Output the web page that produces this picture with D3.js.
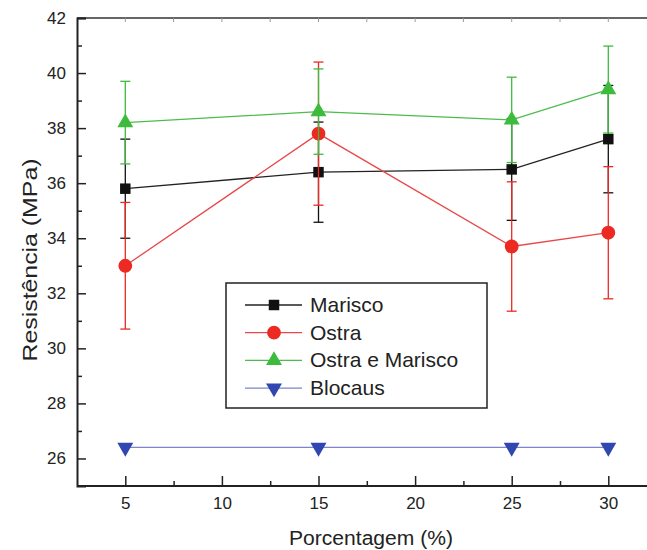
<!doctype html>
<html>
<head>
<meta charset="UTF-8">
<title>Resistência x Porcentagem</title>
<style>
	body { margin: 0; background: #fff; }
	text { font-family: "Liberation Sans", Arial, sans-serif; fill: #222; }
</style>
</head>
<body>
<script src="https://cdn.jsdelivr.net/npm/d3@7"></script>
<script>
	// data
	var percentages = [5, 15, 25, 30];
	var seriesNames = ['Marisco', 'Ostra', 'Ostra e Marisco', 'Blocaus'];
	var marisco      = [35.8, 36.4, 36.5, 37.6];
	var mariscoErr   = [1.8, 1.82, 1.85, 1.95];
	var ostra        = [33.0, 37.8, 33.7, 34.2];
	var ostraErr     = [2.3, 2.6, 2.35, 2.4];
	var ostraMar     = [38.2, 38.6, 38.3, 39.4];
	var ostraMarErr  = [1.5, 1.55, 1.55, 1.58];
	var blocaus      = [26.4, 26.4, 26.4, 26.4];
	var blocausErr   = [0, 0, 0, 0];
	var xTicks = [5, 10, 15, 20, 25, 30];
	var yTicks = [26, 28, 30, 32, 34, 36, 38, 40, 42];

	var w = 647,
		h = 550,
		padLeft = 77,
		padTop = 18,
		padBottom = 486;

	var svg = d3.select('body')
		.append('svg')
		.attr('width', w)
		.attr('height', h);

	var xScale = d3.scaleLinear().domain([2.5, 32.5]).range([padLeft, padLeft + 30 * 19.32]);
	var yScale = d3.scaleLinear().domain([25, 42]).range([padBottom, padTop]);

	var series = [
		{ name: seriesNames[0], vals: marisco, err: mariscoErr, color: '#111', line: '#222', shape: d3.symbolSquare, size: 110 },
		{ name: seriesNames[1], vals: ostra, err: ostraErr, color: '#ec2a22', line: '#e8484a', shape: d3.symbolCircle, size: 150 },
		{ name: seriesNames[2], vals: ostraMar, err: ostraMarErr, color: '#3dbb3d', line: '#4cbc4c', shape: d3.symbolTriangle, size: 110 },
		{ name: seriesNames[3], vals: blocaus, err: blocausErr, color: '#3046b0', line: '#7c84cc', shape: d3.symbolTriangle, size: 110, flip: true }
	];

	// frame: top line
	svg.append('line')
		.attr('x1', padLeft).attr('x2', w)
		.attr('y1', padTop).attr('y2', padTop)
		.attr('stroke', '#333').attr('stroke-width', 1.5);

	// top minor marks
	svg.append('g').selectAll('line')
		.data(d3.range(5, 32.5, 2.5))
		.enter().append('line')
		.attr('x1', function(d) { return xScale(d); })
		.attr('x2', function(d) { return xScale(d); })
		.attr('y1', padTop).attr('y2', padTop + 4)
		.attr('stroke', '#999');

	// axes, ticks drawn inward
	var xAxis = svg.append('g')
		.attr('transform', 'translate(0,' + padBottom + ')')
		.call(d3.axisBottom(xScale).tickValues(xTicks).tickSize(-10).tickPadding(11));
	xAxis.select('.domain').attr('stroke', '#222').attr('stroke-width', 2).attr('d', 'M' + padLeft + ',0H' + w);

	svg.append('g')
		.attr('transform', 'translate(0,' + padBottom + ')')
		.call(d3.axisBottom(xScale).tickValues(d3.range(7.5, 32.5, 5)).tickSize(-5).tickFormat(''))
		.select('.domain').remove();

	var yAxis = svg.append('g')
		.attr('transform', 'translate(' + padLeft + ',0)')
		.call(d3.axisLeft(yScale).tickValues(yTicks).tickSize(-9).tickPadding(11));
	yAxis.select('.domain').attr('stroke', '#222').attr('stroke-width', 2);

	svg.append('g')
		.attr('transform', 'translate(' + padLeft + ',0)')
		.call(d3.axisLeft(yScale).tickValues(d3.range(27, 42, 2)).tickSize(-5).tickFormat(''))
		.select('.domain').remove();

	svg.selectAll('.tick line').attr('stroke', '#222').attr('stroke-width', 1.5);
	svg.selectAll('.tick text')
		.attr('fill', '#222')
		.style('font-size', '17px')
		.style('font-family', '"Liberation Sans", Arial, sans-serif');

	// series
	var line = d3.line()
		.x(function(d, i) { return xScale(percentages[i]); })
		.y(function(d) { return yScale(d); });

	series.forEach(function(s) {
		var g = svg.append('g');
		g.append('path')
			.attr('d', line(s.vals))
			.attr('fill', 'none')
			.attr('stroke', s.line)
			.attr('stroke-width', 1.3);

		var eb = g.selectAll('.err')
			.data(s.vals.map(function(v, i) { return { x: percentages[i], v: v, e: s.err[i] }; })
				.filter(function(d) { return d.e > 0; }))
			.enter().append('g');
		eb.append('line')
			.attr('x1', function(d) { return xScale(d.x); })
			.attr('x2', function(d) { return xScale(d.x); })
			.attr('y1', function(d) { return yScale(d.v - d.e); })
			.attr('y2', function(d) { return yScale(d.v + d.e); })
			.attr('stroke', s.color).attr('stroke-width', 1.3);
		[-1, 1].forEach(function(sign) {
			eb.append('line')
				.attr('x1', function(d) { return xScale(d.x) - 5; })
				.attr('x2', function(d) { return xScale(d.x) + 5; })
				.attr('y1', function(d) { return yScale(d.v + sign * d.e); })
				.attr('y2', function(d) { return yScale(d.v + sign * d.e); })
				.attr('stroke', s.color).attr('stroke-width', 1.3);
		});

		g.selectAll('.pt')
			.data(s.vals)
			.enter().append('path')
			.attr('d', d3.symbol().type(s.shape).size(s.size))
			.attr('transform', function(d, i) {
				return 'translate(' + xScale(percentages[i]) + ',' + yScale(d) + ')' + (s.flip ? ' rotate(180)' : '');
			})
			.attr('fill', s.color);
	});

	// legend
	var lg = svg.append('g').attr('transform', 'translate(226,283)');
	lg.append('rect')
		.attr('width', 261).attr('height', 125)
		.attr('fill', '#fff').attr('stroke', '#222').attr('stroke-width', 1.5);
	series.forEach(function(s, i) {
		var y = 22 + i * 27.7;
		lg.append('line')
			.attr('x1', 19).attr('x2', 76)
			.attr('y1', y).attr('y2', y)
			.attr('stroke', s.line).attr('stroke-width', 1.3);
		lg.append('path')
			.attr('d', d3.symbol().type(s.shape).size(s.size)())
			.attr('transform', 'translate(48,' + y + ')' + (s.flip ? ' rotate(180)' : ''))
			.attr('fill', s.color);
		lg.append('text')
			.attr('x', 84).attr('y', y + 7)
			.style('font-size', '21px')
			.text(s.name);
	});

	// axis titles
	svg.append('text')
		.attr('x', 371).attr('y', 545)
		.attr('text-anchor', 'middle')
		.attr('textLength', 164)
		.attr('lengthAdjust', 'spacingAndGlyphs')
		.style('font-size', '20px')
		.text('Porcentagem (%)');

	svg.append('text')
		.attr('transform', 'translate(37,260) rotate(-90)')
		.attr('text-anchor', 'middle')
		.attr('textLength', 203)
		.attr('lengthAdjust', 'spacingAndGlyphs')
		.style('font-size', '20px')
		.text('Resistência (MPa)');
</script>
</body>
</html>
